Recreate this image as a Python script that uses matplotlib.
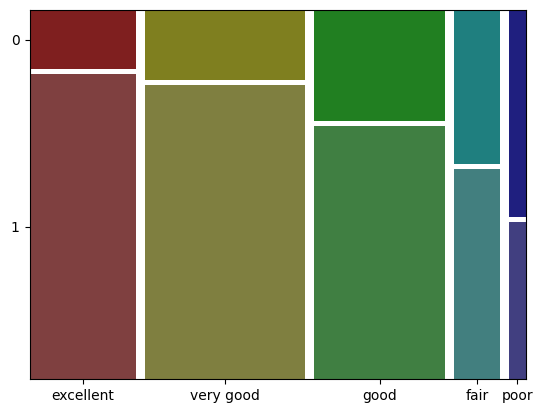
import numpy as np
import matplotlib
matplotlib.use("Agg")
from matplotlib import pyplot as plt
from matplotlib.patches import Rectangle

# share of each rating (column width) and share of "0" within each column
ratings = ["excellent", "very good", "good", "fair", "poor"]
col_share = [0.231, 0.347, 0.282, 0.100, 0.037]
top_share = [0.162, 0.192, 0.305, 0.423, 0.568]
row_labels = ["0", "1"]

top_colors = ["#7f1f1f", "#7f7f1f", "#217f21", "#1f7f7f", "#1f1f7f"]
bottom_colors = ["#7f4040", "#7f7f40", "#407f42", "#427f7f", "#413f80"]


def main():
    fig = plt.figure(figsize=(5.42, 4.13), dpi=100)
    ax = fig.add_axes([29.5 / 542, (413 - 379.3) / 413, 496.5 / 542, 369.3 / 413])

    gx = 9 / 496.5
    gy = 5 / 369.3
    shares = np.array(col_share) / np.sum(col_share)
    free_w = 1 - gx * (len(ratings) - 1)
    free_h = 1 - gy

    x = 0.0
    centers = []
    y_ticks = None
    for i, name in enumerate(ratings):
        w = shares[i] * free_w
        h_top = top_share[i] * free_h
        h_bot = free_h - h_top
        # axis is inverted: 0 is the top tile
        ax.add_patch(Rectangle((x, 0), w, h_top, facecolor=top_colors[i], edgecolor="none"))
        ax.add_patch(Rectangle((x, h_top + gy), w, h_bot, facecolor=bottom_colors[i], edgecolor="none"))
        centers.append(x + w / 2)
        if y_ticks is None:
            y_ticks = [h_top / 2, h_top + gy + h_bot / 2]
        x += w + gx

    ax.set_xlim(0, 1)
    ax.set_ylim(1, 0)
    ax.set_xticks(centers)
    ax.set_xticklabels(ratings)
    ax.set_yticks(y_ticks)
    ax.set_yticklabels(row_labels)

    fig.savefig("out.png", dpi=100)


if __name__ == "__main__":
    main()
